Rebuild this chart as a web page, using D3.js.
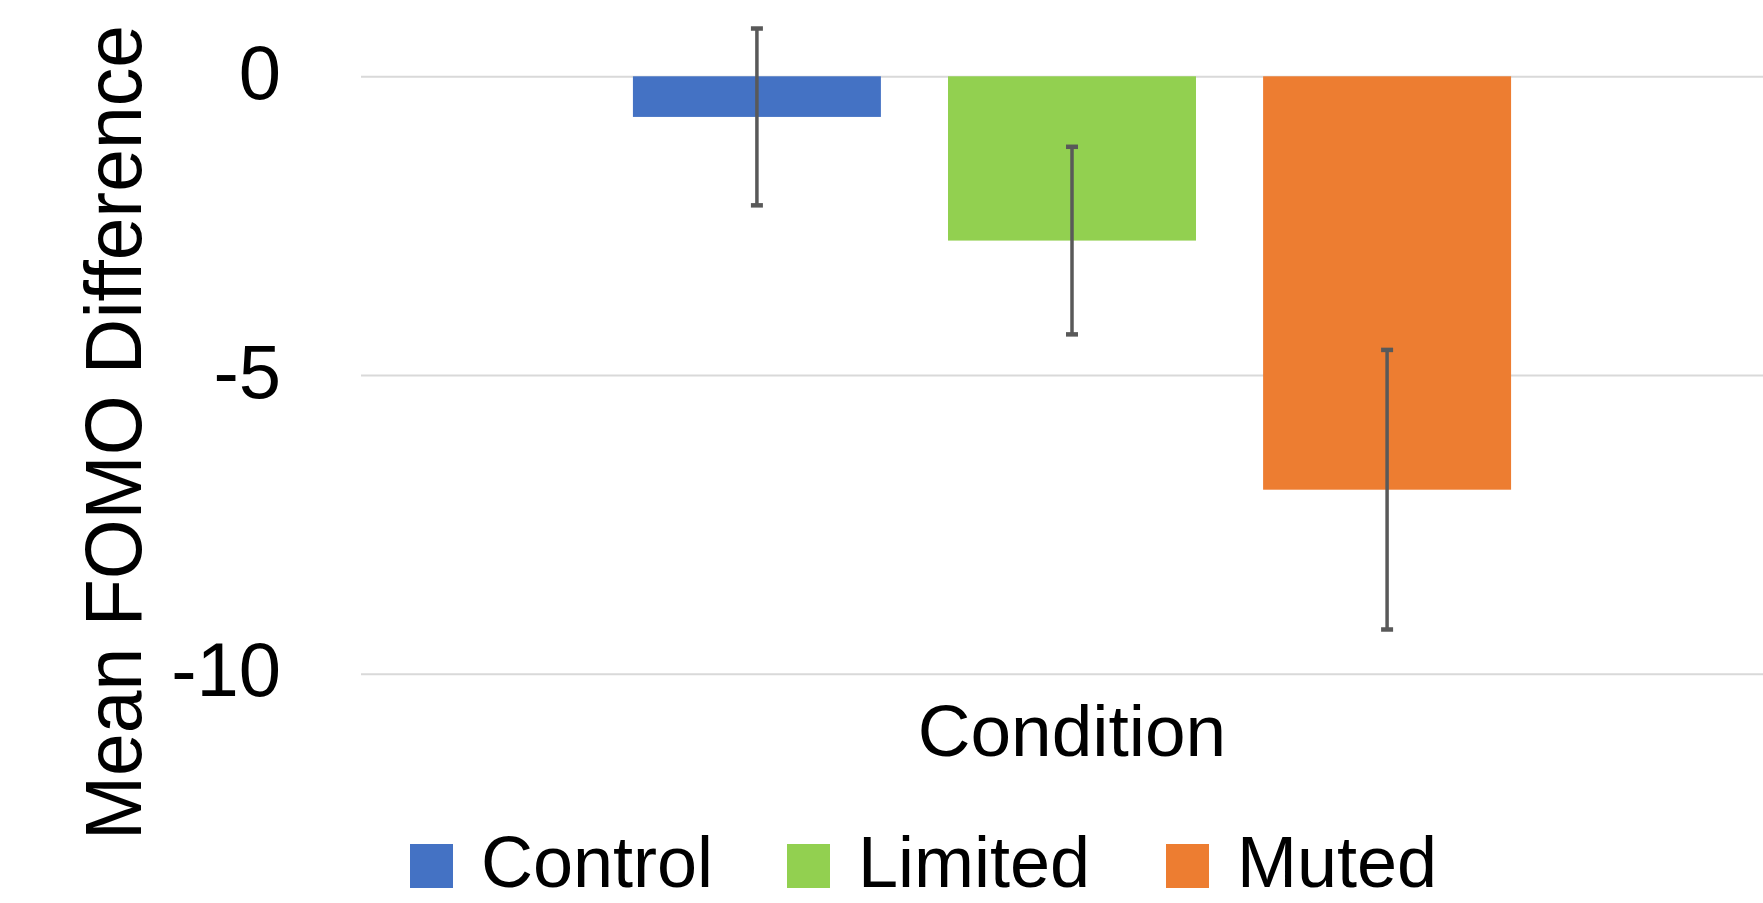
<!DOCTYPE html>
<html>
<head>
<meta charset="utf-8">
<script src="https://cdn.jsdelivr.net/npm/d3@7"></script>
<style>
  html, body { margin: 0; padding: 0; background: #ffffff; }
  svg { display: block; }
  text { font-family: "Liberation Sans", Arial, sans-serif; fill: #000000; }
</style>
</head>
<body>
<svg id="chart" width="1763" height="903"></svg>
<script>
// ---- data ----
const categories = ["Control", "Limited", "Muted"];
const meanValues = [-0.68, -2.75, -6.92];
const errorValues = [1.48, 1.57, 2.34];
const seriesColors = ["#4472C4", "#92D050", "#ED7D31"];
const yTickValues = [0, -5, -10];
const xAxisTitle = "Condition";
const yAxisTitle = "Mean FOMO Difference";

const svg = d3.select("#chart");
const W = 1763, H = 903;

const plot = { left: 361, right: 1783, top: 76.3, bottom: 673.7 };

const x = d3.scaleBand()
  .domain(categories)
  .range([plot.left, plot.right])
  .paddingInner(0.213)
  .paddingOuter(0.863);

const y = d3.scaleLinear()
  .domain([-10, 0])
  .range([plot.bottom, plot.top]);

// gridlines
const gridAxis = d3.axisLeft(y)
  .tickValues(yTickValues)
  .tickSize(-(W - plot.left))
  .tickFormat("");
const grid = svg.append("g")
  .attr("transform", `translate(${plot.left},0)`)
  .call(gridAxis);
grid.select(".domain").remove();
grid.selectAll(".tick line").attr("stroke", "#D9D9D9").attr("stroke-width", 2);

// tick labels (hyphen-minus as in the original)
const labelAxis = d3.axisLeft(y)
  .tickValues(yTickValues)
  .tickSize(0)
  .tickPadding(0)
  .tickFormat(d => String(d));
const lab = svg.append("g")
  .attr("transform", `translate(281,0)`)
  .call(labelAxis);
lab.select(".domain").remove();
lab.selectAll(".tick text")
  .attr("font-family", "Liberation Sans, Arial, sans-serif")
  .attr("font-size", 76)
  .attr("fill", "#000")
  .attr("dy", "0.29em")
  .attr("x", 0)
  .style("text-anchor", "end");

// bars
svg.append("g").selectAll("rect")
  .data(categories)
  .join("rect")
  .attr("x", d => x(d))
  .attr("width", x.bandwidth())
  .attr("y", (d, i) => y(Math.max(0, meanValues[i])))
  .attr("height", (d, i) => Math.abs(y(meanValues[i]) - y(0)))
  .attr("fill", (d, i) => seriesColors[i]);

// error bars
const eb = svg.append("g").selectAll("g")
  .data(categories)
  .join("g");
eb.append("line")
  .attr("x1", d => x(d) + x.bandwidth() / 2)
  .attr("x2", d => x(d) + x.bandwidth() / 2)
  .attr("y1", (d, i) => y(meanValues[i] + errorValues[i]))
  .attr("y2", (d, i) => y(meanValues[i] - errorValues[i]))
  .attr("stroke", "#595959")
  .attr("stroke-width", 3.5);
[1, -1].forEach(s => {
  eb.append("line")
    .attr("x1", d => x(d) + x.bandwidth() / 2 - 6)
    .attr("x2", d => x(d) + x.bandwidth() / 2 + 6)
    .attr("y1", (d, i) => y(meanValues[i] + s * errorValues[i]))
    .attr("y2", (d, i) => y(meanValues[i] + s * errorValues[i]))
    .attr("stroke", "#595959")
    .attr("stroke-width", 4.5);
});

// x axis title
svg.append("text")
  .attr("x", (plot.left + plot.right) / 2)
  .attr("y", 756)
  .attr("text-anchor", "middle")
  .attr("font-size", 73)
  .text(xAxisTitle);

// y axis title
svg.append("text")
  .attr("transform", "translate(141,432.5) rotate(-90)")
  .attr("text-anchor", "middle")
  .attr("font-size", 79)
  .attr("textLength", 815)
  .attr("lengthAdjust", "spacingAndGlyphs")
  .text(yAxisTitle);

// legend
const legendX = [410, 787, 1166];
const leg = svg.append("g").selectAll("g")
  .data(categories)
  .join("g")
  .attr("transform", (d, i) => `translate(${legendX[i]},0)`);
leg.append("rect")
  .attr("x", 0).attr("y", 844)
  .attr("width", 43).attr("height", 44)
  .attr("fill", (d, i) => seriesColors[i]);
leg.append("text")
  .attr("x", 71).attr("y", 887)
  .attr("font-size", 72)
  .text(d => d);
</script>
</body>
</html>
